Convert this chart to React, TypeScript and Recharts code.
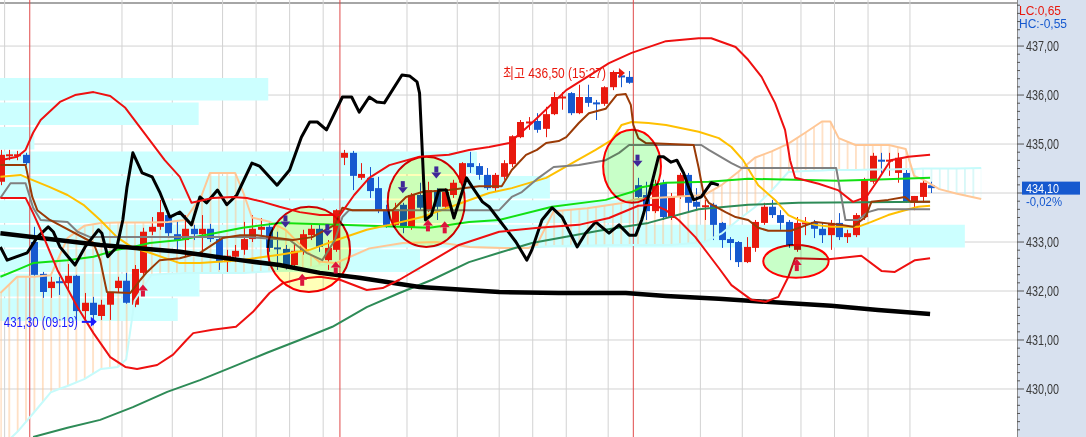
import React from 'react';
import {
  ComposedChart, XAxis, YAxis, Bar, Line, Area, Scatter,
  ReferenceArea, ReferenceLine,
} from 'recharts';

// ---------------- data ----------------
const candleOpen = [
  434.23, 434.76, 434.76, 434.78, 433.00, 432.35, 432.06, 432.19, 432.16, 432.31,
  431.59, 431.76, 431.49, 431.72, 432.06, 432.21, 431.72, 432.37, 433.21, 433.31,
  433.55, 433.16, 433.04, 433.27, 433.16, 433.27, 433.06, 432.59, 432.70, 432.84,
  433.06, 433.25, 433.31, 432.88, 432.86, 432.53, 432.80, 433.14, 433.27, 432.63,
  432.84, 434.72, 434.82, 434.31, 434.31, 434.10, 433.65, 433.35, 433.76, 433.29,
  433.96, 433.65, 434.06, 433.72, 433.96, 434.21, 434.61, 434.55, 434.37, 434.10,
  434.33, 434.59, 435.14, 435.43, 435.47, 435.31, 435.61, 435.94, 436.04, 435.63,
  435.96, 435.84, 435.82, 436.16, 436.39, 436.37, 434.16, 433.96, 433.63, 434.21,
  433.49, 433.92, 434.37, 433.82, 433.72, 433.76, 433.39, 433.06, 433.00, 432.59,
  432.88, 433.39, 433.72, 433.55, 433.41, 432.84, 433.37, 433.41, 433.27, 433.14,
  433.39, 433.10, 433.14, 433.51, 434.23, 434.67, 434.65, 434.41, 434.41, 433.80,
  433.92, 434.16,
];
const candleHigh = [
  434.88, 434.88, 434.86, 434.82, 433.31, 432.39, 432.29, 432.29, 432.55, 432.33,
  431.96, 431.88, 431.82, 431.98, 432.29, 432.37, 432.53, 433.29, 433.51, 433.86,
  433.59, 433.45, 433.55, 433.35, 433.55, 433.37, 433.10, 432.84, 432.94, 433.41,
  433.55, 433.49, 433.41, 433.21, 432.94, 432.98, 433.25, 433.35, 433.35, 433.04,
  433.67, 434.88, 434.86, 434.61, 434.53, 434.33, 433.76, 433.80, 433.80, 434.00,
  434.21, 434.23, 434.10, 434.10, 434.27, 434.63, 434.84, 434.61, 434.51, 434.41,
  434.67, 435.18, 435.49, 435.55, 435.63, 435.76, 436.06, 436.06, 436.06, 436.21,
  436.21, 435.90, 436.18, 436.50, 436.47, 436.49, 434.31, 434.23, 434.27, 434.27,
  434.00, 434.41, 434.41, 434.10, 433.86, 433.80, 433.41, 433.10, 433.02, 433.10,
  433.45, 433.80, 433.86, 433.65, 433.45, 433.51, 433.51, 433.45, 433.39, 433.45,
  433.59, 433.25, 433.59, 434.31, 434.82, 434.82, 434.82, 434.82, 434.51, 433.94,
  434.31, 434.23,
];
const candleLow = [
  434.16, 434.67, 434.67, 434.57, 432.31, 431.86, 431.86, 431.92, 432.02, 431.41,
  431.41, 431.30, 431.41, 431.41, 431.96, 431.74, 431.67, 432.33, 433.14, 433.25,
  433.12, 432.78, 432.70, 433.04, 432.70, 433.00, 432.43, 432.39, 432.59, 432.74,
  433.00, 433.14, 432.80, 432.43, 432.43, 432.47, 432.74, 433.04, 432.80, 432.43,
  432.80, 434.57, 434.06, 434.27, 433.90, 433.59, 433.29, 433.29, 433.18, 433.25,
  433.65, 433.61, 433.45, 433.65, 433.90, 434.16, 434.41, 434.27, 434.06, 434.02,
  434.27, 434.53, 435.12, 435.29, 435.23, 435.14, 435.59, 435.70, 435.59, 435.61,
  435.76, 435.49, 435.78, 436.10, 436.16, 436.23, 433.86, 433.45, 433.59, 433.45,
  433.45, 433.88, 433.61, 433.65, 433.45, 433.04, 432.88, 432.63, 432.49, 432.57,
  432.80, 433.35, 433.49, 433.25, 432.88, 432.80, 433.14, 433.08, 432.98, 432.84,
  433.04, 432.98, 433.10, 433.45, 434.19, 434.41, 434.35, 434.21, 433.80, 433.65,
  433.80, 434.00,
];
const candleClose = [
  434.78, 434.78, 434.78, 434.61, 432.33, 431.98, 432.19, 432.17, 432.31, 431.59,
  431.76, 431.51, 431.72, 431.96, 432.21, 431.76, 432.45, 433.21, 433.31, 433.61,
  433.18, 433.04, 433.27, 433.16, 433.27, 433.06, 432.59, 432.72, 432.82, 433.06,
  433.27, 433.31, 432.88, 432.86, 432.49, 432.82, 433.16, 433.27, 432.90, 432.88,
  433.65, 434.82, 434.35, 434.39, 434.04, 433.65, 433.35, 433.67, 433.29, 433.96,
  433.70, 434.06, 433.72, 434.02, 434.21, 434.61, 434.53, 434.37, 434.10, 434.37,
  434.61, 435.16, 435.45, 435.45, 435.29, 435.61, 435.96, 435.96, 435.63, 435.96,
  435.84, 435.82, 436.16, 436.43, 436.37, 436.25, 433.92, 433.63, 434.16, 433.51,
  433.92, 434.37, 433.80, 433.72, 433.74, 433.35, 433.04, 432.98, 432.59, 432.90,
  433.41, 433.72, 433.55, 433.39, 432.94, 433.39, 433.39, 433.27, 433.14, 433.39,
  433.10, 433.18, 433.55, 434.27, 434.76, 434.65, 434.67, 434.72, 433.82, 433.94,
  434.21, 434.10,
];

type P = [number, number];

const upperBand: P[] = [[0,434.67],[2,434.74],[3,434.88],[3.9,435.23],[4.8,435.49],[7.1,435.86],[8.9,436.00],[11.1,436.06],[13.1,435.98],[14.9,435.74],[16.7,435.33],[17.8,435.08],[19.6,434.67],[21.4,434.33],[22.8,433.80],[25.3,433.90],[27.7,433.92],[29.4,433.90],[31.3,433.82],[33.3,433.72],[35.7,433.61],[38.1,433.55],[40.5,433.55],[42.2,433.96],[44,434.31],[46.4,434.57],[50,434.74],[53.5,434.78],[55.9,434.88],[58.3,434.94],[60.7,435.02],[63.4,435.43],[67.5,436.10],[72.6,436.65],[75.3,436.86],[79.4,437.10],[83.3,437.16],[84.8,437.16],[87.7,436.98],[89.2,436.72],[90.8,436.37],[92.4,435.84],[93.6,435.29],[94.2,434.67],[94.8,434.31],[97.6,434.19],[99.9,434.06],[101.7,433.82],[103.3,433.92],[104.7,434.27],[106.2,434.67],[108.3,434.74],[110.9,434.78]];
const lowerBand: P[] = [[0,433.90],[3,433.90],[3.9,433.59],[4.8,433.25],[6.8,432.43],[9.2,431.67],[11.1,431.14],[13.1,430.65],[14.9,430.45],[16.3,430.41],[18.7,430.49],[20.6,430.70],[22.2,431.00],[23,431.14],[25.3,431.21],[28.1,431.27],[30.1,431.57],[32.1,431.96],[33.7,432.16],[35.7,432.25],[38.1,432.29],[40.5,432.23],[43.7,432.02],[45.6,432.06],[47.6,432.23],[51.2,432.59],[54.7,432.94],[59.5,433.21],[64.2,433.29],[69,433.35],[72.6,433.49],[76.1,433.74],[77.9,433.76],[79.4,433.65],[80.9,433.45],[82.9,433.10],[84.5,432.74],[85.7,432.47],[87.2,432.12],[89.6,431.82],[91.3,431.78],[92.8,431.88],[94,432.29],[94.8,432.67],[98.8,432.65],[102.7,432.72],[105.1,432.41],[106.7,432.39],[109.1,432.63],[110.9,432.67]];
const laggingSpan: P[] = [[0,432.90],[0.8,432.63],[3.2,432.78],[4.4,433.10],[5.7,433.31],[6.3,433.21],[7.1,432.90],[8.9,432.53],[10.1,432.90],[11.7,433.25],[12.1,433.18],[12.8,432.70],[13.9,432.90],[14.6,433.45],[15.1,434.12],[15.8,434.82],[16.9,434.41],[18.1,434.33],[19,434.02],[20.2,433.51],[21.4,433.61],[22.8,433.35],[23.8,433.92],[24.6,433.80],[25.9,434.06],[27,433.76],[28.2,433.96],[30,434.61],[30.9,434.55],[33,434.16],[34.5,434.47],[35.9,435.14],[36.9,435.45],[37.8,435.45],[38.9,435.29],[40.8,435.96],[41.9,435.96],[42.8,435.65],[44,435.96],[44.9,435.86],[45.8,435.84],[47.9,436.41],[48.8,436.39],[49.7,436.27],[50,436.04],[50.3,434.94],[50.7,433.45],[51.4,433.55],[52.3,434.06],[53.2,434.06],[54.1,433.49],[55.6,434.31],[56.3,434.12],[57.5,433.82],[58.3,433.72],[59.5,433.45],[60.7,433.18],[61.5,433.00],[62.8,432.63],[63.4,432.84],[64.6,433.45],[65.8,433.70],[67,433.51],[68.8,432.90],[69.8,433.18],[71,433.41],[72.6,433.18],[73.8,433.35],[75,433.14],[75.8,433.14],[76.5,433.45],[77.3,433.92],[77.9,434.33],[78.5,434.74],[79.1,434.74],[80,434.63],[80.7,434.67],[81.5,434.41],[82.1,434.12],[82.7,433.86],[83.6,433.92],[84.8,434.21],[85.7,434.16]];
const slowAverage: P[] = [[0,433.18],[11.9,432.94],[21.4,432.80],[28.6,432.63],[33.3,432.53],[38.1,432.37],[42.8,432.27],[50,432.08],[59.5,431.98],[66.6,431.96],[74.6,431.96],[79.4,431.90],[85.7,431.84],[91.3,431.78],[99.1,431.70],[104.7,431.61],[110.9,431.53]];
const baseLine: P[] = [[0,433.90],[1.2,434.20],[3,434.20],[3.9,433.70],[4.8,433.45],[8,433.41],[9.2,433.21],[10.7,433.10],[21.4,433.10],[29.7,433.10],[34.5,433.04],[36.5,432.78],[38.4,432.63],[39.9,433.04],[40.8,433.51],[41.6,433.65],[59.5,433.65],[61,433.92],[62.2,434.02],[64.2,434.31],[66,434.53],[69,434.57],[72.2,434.67],[73.8,434.82],[75,434.98],[83.6,434.98],[84.5,434.88],[87.2,434.61],[88.4,434.51],[99.7,434.51],[100.8,433.45],[102.3,433.45],[103.5,433.61],[104.7,433.67],[110.9,433.67]];
const conversionLine: P[] = [[0,434.57],[3,434.57],[3.3,434.33],[3.8,433.92],[4.4,433.65],[5.9,433.45],[11.1,432.98],[11.9,432.63],[12.7,431.98],[15.5,431.96],[16.7,432.23],[17.5,432.39],[19,432.63],[21.4,432.67],[23.8,432.78],[26.5,433.08],[28.6,433.14],[30.6,433.14],[33,433.08],[34.9,433.04],[37.2,433.10],[39.9,433.35],[40.8,433.70],[42,433.65],[46.8,433.65],[48.4,433.92],[50.3,434.02],[53.5,434.06],[57.1,434.14],[59.8,434.14],[61,434.47],[62.7,434.78],[64,434.88],[65.1,435.02],[66.6,435.06],[67.5,435.14],[69,435.43],[70.2,435.63],[72.2,435.72],[73.5,436.00],[74.6,436.02],[75.2,435.80],[75.5,435.39],[76.1,435.12],[77,435.02],[82.7,434.98],[83.3,434.51],[83.9,433.96],[84.5,433.80],[86.5,433.61],[87.7,433.51],[89.2,433.45],[90.4,433.29],[91.6,433.23],[94.3,433.23],[97.2,433.41],[100.3,433.35],[101.7,433.31],[103.2,433.51],[103.9,433.82],[105.9,433.86],[107.9,433.92],[108.6,433.82],[110.9,433.82]];
const yellowAverage: P[] = [[0,434.33],[2.4,434.37],[3.2,434.31],[5.9,434.12],[8,433.96],[9.9,433.76],[11.9,433.45],[13.9,433.10],[15.8,432.88],[17.8,432.78],[21.4,432.57],[23.8,432.57],[28.6,432.63],[33.3,432.74],[36.9,432.84],[40.1,433.04],[43.7,433.25],[46.4,433.35],[50.3,433.51],[54.4,433.76],[58.3,434.00],[61,434.10],[65.1,434.31],[68.2,434.61],[71,434.88],[72.9,435.08],[74.1,435.39],[75.3,435.45],[77.3,435.43],[79.4,435.39],[83.3,435.25],[85.7,435.12],[87.2,434.94],[88.6,434.67],[90.4,434.16],[92.4,433.86],[94,433.55],[95.2,433.45],[97.2,433.35],[99.1,433.31],[102.3,433.31],[103.9,433.41],[105.9,433.55],[107.9,433.65],[109.5,433.72],[110.9,433.74]];
const greenAverage: P[] = [[0,432.29],[2,432.43],[3.9,432.57],[8,432.63],[11.1,432.70],[13.9,432.84],[15.8,432.90],[17.8,432.98],[21.4,433.04],[28.9,433.29],[33.3,433.39],[40.5,433.35],[51.2,433.29],[55.9,433.41],[59.5,433.45],[65.8,433.72],[72.2,433.86],[75.3,434.02],[76.5,434.12],[79.4,434.21],[84.5,434.23],[89.2,434.29],[99.9,434.25],[103.9,434.27],[110.9,434.31]];
const seaGreenAverage: P[] = [[3.9,429.02],[8,429.21],[11.9,429.37],[15.8,429.63],[19.9,429.94],[23.8,430.18],[27.7,430.45],[31.8,430.74],[35.7,431.00],[39.6,431.27],[43.7,431.67],[47.6,431.96],[51.5,432.23],[55.9,432.59],[59.5,432.78],[63.4,432.98],[71.4,433.23],[77.3,433.39],[83.3,433.67],[89.2,433.76],[95.2,433.80],[110.9,433.82]];

const cloudK = [0,2,4,6,7,8,10,12,14,15,16,18,20,22,24,25,27,28,29,30,32,34,36,38,40,44,48,52,56,60,63,64,66,70,74,76,80,84,86,88,90,92,94,96,98,99,100,102,104,106,108,109,110,112,114,117];
const spanA = [431.96,432.29,432.29,432.32,432.70,433.08,433.33,433.39,433.40,433.40,433.40,433.40,433.41,433.45,433.95,434.41,434.41,434.41,434.00,433.50,433.42,433.25,432.90,432.60,432.57,432.87,432.98,433.00,432.90,432.88,432.88,432.95,433.63,433.69,433.79,433.88,433.92,433.96,434.16,434.43,434.72,434.85,435.01,435.23,435.46,435.46,435.12,434.98,434.98,434.98,434.90,434.35,434.28,434.08,433.99,433.88];
const spanB = [428.80,429.12,429.52,429.93,430.00,430.06,430.20,430.41,430.45,430.60,431.80,432.33,432.35,432.37,432.37,432.37,432.37,432.37,432.37,432.38,432.40,432.42,432.44,432.52,432.58,432.85,432.96,433.00,432.90,432.88,432.88,432.90,432.92,432.93,432.94,432.94,432.94,433.00,433.17,433.45,433.71,434.05,434.43,434.45,434.46,434.47,434.47,434.47,434.48,434.48,434.49,434.49,434.50,434.50,434.50,434.51];

// volume-by-price profile
const profileTop = [436.35, 435.85, 435.35, 434.85, 434.35, 433.85, 433.35, 432.85, 432.35, 431.85];
const profileVolume = [32.0, 23.7, 4.1, 56.9, 65.6, 76.9, 115.1, 50.1, 23.8, 21.2];
const profileBinHeight = 0.46;

// signal marks
const downSignals: P[] = [[34,433.40],[39,433.22],[48,434.10],[52,434.40],[76,434.64]];
const upSignals: P[] = [[17,432.03],[36,432.25],[40,432.50],[51,433.36],[53,433.32],[95,432.55]];

// highlighted zones
const zoneFromK = [31.9, 46.2, 71.9, 91.0];
const zoneToK = [41.7, 55.4, 78.8, 98.8];
const zoneHigh = [433.72, 434.74, 435.29, 432.94];
const zoneLow = [431.98, 432.90, 433.80, 432.27];
const zoneTone = ['yellow', 'yellow', 'green', 'green'];

const highValue = 436.50, highTime = '15:27', highAt: P = [74.5, 436.45];
const lowValue = 431.30, lowTime = '09:19', lowAt: P = [11.5, 431.37];
const lastPrice = 434.10, lastChange = '-0,02%';
const lcText = 'LC:0,65', hcText = 'HC:-0,55';

const axisLabels = [430, 431, 432, 433, 434, 435, 436, 437];
const gridSlots = [0.5, 14.5, 20.5, 26.5, 30.5, 34.5, 38.5, 48.5, 54.5, 59.5, 63.5, 67.5, 72.5, 83.5, 88.5, 95.5, 99.5, 103.5, 108.5];
const daySlots = [3.5, 40.5, 75.5];

// ---------------- derived ----------------
const X_DOMAIN: [number, number] = [-0.05, 121.27];
const Y_DOMAIN: [number, number] = [429.02, 437.94];
const RED = '#e8190e';
const BLUE = '#1659cf';
const FONT = "'Liberation Sans', Arial, 'Noto Sans CJK KR', sans-serif";

const candles = candleOpen.map((o, i) => ({
  k: i, open: o, high: candleHigh[i], low: candleLow[i], close: candleClose[i],
}));
const pts = (arr: P[]) => arr.map(([k, v]) => ({ k, v }));
const cloud = cloudK.map((k, i) => {
  const a = spanA[i], b = spanB[i];
  return { k, a, b, peach: a >= b ? [b, a] : [a, a], cyan: b > a ? [a, b] : [b, b] };
});

const minorPerUnit = 6;
const axisTicks: number[] = [];
for (let p = 429; p <= 437; p++) {
  for (let j = 0; j < minorPerUnit; j++) {
    const t = +(p + j / minorPerUnit).toFixed(4);
    if (t >= Y_DOMAIN[0] && t <= Y_DOMAIN[1]) axisTicks.push(t);
  }
}
axisTicks.push(lastPrice);

const fmt = (v: number) => v.toFixed(2).replace('.', ',');

// ---------------- shapes ----------------
const BODY_W = 7;
const Candle = (props: any) => {
  const { x, y, width, height, payload } = props;
  if (x == null || y == null || !payload) return null;
  const { open, close, high, low } = payload;
  const span = high - low;
  const ratio = span > 0 ? height / span : 0;
  const py = (v: number) => y + (high - v) * ratio;
  const color = close >= open ? RED : BLUE;
  const cx = Math.round(x + width / 2);
  const top = py(Math.max(open, close));
  const bot = py(Math.min(open, close));
  const thin = bot - top < 2;
  return (
    <g>
      <line x1={cx + 0.5} x2={cx + 0.5} y1={y} y2={y + height} stroke={color} strokeWidth={1} />
      <rect x={cx - 3} y={thin ? (top + bot) / 2 - 1 : top} width={BODY_W} height={thin ? 2 : bot - top} fill={color} />
    </g>
  );
};

const DownArrow = (p: any) => {
  const { cx, cy } = p;
  const c = '#3f2898';
  return (
    <g>
      <rect x={cx - 2} y={cy - 7} width={4} height={6} fill={c} />
      <polygon points={`${cx - 5},${cy - 1} ${cx + 5},${cy - 1} ${cx},${cy + 5}`} fill={c} />
    </g>
  );
};
const UpArrow = (p: any) => {
  const { cx, cy } = p;
  const c = '#dc143c';
  return (
    <g>
      <polygon points={`${cx - 5},${cy + 1} ${cx + 5},${cy + 1} ${cx},${cy - 5}`} fill={c} />
      <rect x={cx - 2} y={cy + 1} width={4} height={6} fill={c} />
    </g>
  );
};

const makeMarker = (text: string, color: string, len: number) => (p: any) => {
  const { cx, cy } = p;
  return (
    <g>
      <line x1={cx - 15} x2={cx - 5} y1={cy} y2={cy} stroke={color} strokeWidth={2} />
      <polygon points={`${cx - 6},${cy - 5} ${cx},${cy} ${cx - 6},${cy + 5}`} fill={color} />
      <text x={cx - 19 - len} y={cy} dy="0.36em" textAnchor="start" fill={color}
        textLength={len} lengthAdjust="spacingAndGlyphs"
        style={{ fontFamily: FONT, fontSize: 14 }}>{text}</text>
    </g>
  );
};
const HighMarker = makeMarker(`최고 ${fmt(highValue)} (${highTime})`, RED, 103);
const LowMarker = makeMarker(`${fmt(lowValue)} (${lowTime})`, '#1a1aff', 74);

const ellipseShape = (fill: string) => (p: any) => {
  const { x, y, width, height } = p;
  if (x == null) return null;
  return (
    <ellipse cx={x + width / 2} cy={y + height / 2} rx={Math.abs(width) / 2} ry={Math.abs(height) / 2}
      fill={fill} stroke="#ff0000" strokeWidth={2} style={{ mixBlendMode: 'multiply' }} />
  );
};

const txt = { fontFamily: FONT, fontSize: 14 } as const;

const AxisTick = (props: any) => {
  const { x, y, payload } = props;
  const v = payload.value;
  if (v === lastPrice) {
    return (
      <g>
        <rect x={x + 5} y={y - 6.5} width={58} height={13} fill={BLUE} />
        <text x={x + 9} y={y} dy="0.36em" textAnchor="start" fill="#ffffff" style={{ ...txt, fontSize: 13 }}
          textLength={33} lengthAdjust="spacingAndGlyphs">{fmt(v)}</text>
        <text x={x + 9} y={y + 13} dy="0.36em" textAnchor="start" fill={BLUE} style={{ ...txt, fontSize: 13 }}
          textLength={36} lengthAdjust="spacingAndGlyphs">{lastChange}</text>
      </g>
    );
  }
  const major = axisLabels.some((l) => Math.abs(l - v) < 1e-3);
  return (
    <g>
      <line x1={x} x2={x + (major ? 7 : 3)} y1={y} y2={y} stroke="#555" strokeWidth={1} />
      {major && Math.abs(v - lastPrice) > 0.2 && (
        <text x={x + 9} y={y} dy="0.36em" textAnchor="start" fill="#3a3a3a" style={txt}
          textLength={33} lengthAdjust="spacingAndGlyphs">{fmt(v)}</text>
      )}
    </g>
  );
};

const AxisCorner = (props: any) => {
  const vb = props.viewBox || {};
  const x0 = (vb.x ?? 1017) + 2;
  return (
    <g>
      <text x={x0} y={10} dy="0.36em" fill={RED} style={{ ...txt, fontSize: 13 }}
        textLength={42} lengthAdjust="spacingAndGlyphs">{lcText}</text>
      <text x={x0} y={23} dy="0.36em" fill={BLUE} style={{ ...txt, fontSize: 13 }}
        textLength={48} lengthAdjust="spacingAndGlyphs">{hcText}</text>
    </g>
  );
};

const lineProps = { dot: false, activeDot: false, isAnimationActive: false, type: 'linear' as const, dataKey: 'v', strokeLinejoin: 'round' as const };

export default function App() {
  return (
    <div style={{ position: 'absolute', left: 0, top: 0, width: 1086, height: 437, background: '#ffffff', overflow: 'hidden' }}>
      <div style={{ position: 'absolute', left: 1017, top: 0, width: 69, height: 437, background: '#d8e1ef', borderLeft: '1px solid #8a8a8a', boxSizing: 'border-box' }} />
      <div style={{ position: 'absolute', left: 0, top: 2, width: 1017, height: 2, background: '#a6a6a6' }} />
      <div style={{ position: 'absolute', left: 0, top: 0 }}>
        <ComposedChart width={1086} height={437} data={candles} margin={{ top: 0, right: 0, bottom: 0, left: 0 }}>
          <defs>
            <pattern id="hatchPeach" patternUnits="userSpaceOnUse" x={0} y={0} width={8.383} height={10}>
              <line x1={0.9} y1={0} x2={0.9} y2={10} stroke="#ffc796" strokeWidth={1} />
            </pattern>
            <pattern id="hatchCyan" patternUnits="userSpaceOnUse" x={0} y={0} width={8.383} height={10}>
              <line x1={0.9} y1={0} x2={0.9} y2={10} stroke="#b9f2f2" strokeWidth={1} />
            </pattern>
          </defs>
          <XAxis xAxisId={0} dataKey="k" type="number" domain={X_DOMAIN} allowDataOverflow hide />
          <XAxis xAxisId="c" dataKey="k" type="number" domain={X_DOMAIN} allowDataOverflow hide />

          {axisLabels.map((p) => (
            <ReferenceLine key={`gh${p}`} y={p} stroke="#d2d2d2" strokeWidth={1} zIndex={-95} />
          ))}
          {gridSlots.map((s) => (
            <ReferenceLine key={`gv${s}`} x={s} stroke="#d2d2d2" strokeWidth={1} zIndex={-95} />
          ))}

          {profileTop.map((t, i) => (
            <ReferenceArea key={`pf${i}`} x1={X_DOMAIN[0]} x2={X_DOMAIN[0] + profileVolume[i]}
              y1={t - profileBinHeight} y2={t} fill="#ccffff" fillOpacity={1} stroke="none" zIndex={-80} />
          ))}
          {daySlots.map((s) => (
            <ReferenceLine key={`d${s}`} x={s} stroke="#e04a4a" strokeWidth={1} zIndex={-70} />
          ))}

          <Area data={cloud} dataKey="peach" type="linear" stroke="none" fill="url(#hatchPeach)" fillOpacity={1} isAnimationActive={false} activeDot={false} zIndex={-60} />
          <Area data={cloud} dataKey="cyan" type="linear" stroke="none" fill="url(#hatchCyan)" fillOpacity={1} isAnimationActive={false} activeDot={false} zIndex={-60} />

          <Bar xAxisId="c" dataKey={(d: any) => [d.low, d.high]} barSize={7} shape={Candle} isAnimationActive={false} zIndex={300} />

          <Line data={cloud} {...lineProps} dataKey="b" stroke="#c6fbfb" strokeWidth={2} zIndex={400} />
          <Line data={cloud} {...lineProps} dataKey="a" stroke="#ffc796" strokeWidth={2} zIndex={400} />
          <Line data={pts(seaGreenAverage)} {...lineProps} stroke="#2e8b57" strokeWidth={2} zIndex={400} />
          <Line data={pts(greenAverage)} {...lineProps} stroke="#12e012" strokeWidth={2} zIndex={400} />
          <Line data={pts(yellowAverage)} {...lineProps} stroke="#ffc000" strokeWidth={2} zIndex={400} />
          <Line data={pts(baseLine)} {...lineProps} stroke="#808080" strokeWidth={2} zIndex={400} />
          <Line data={pts(conversionLine)} {...lineProps} stroke="#9a3a06" strokeWidth={2} zIndex={400} />
          <Line data={pts(slowAverage)} {...lineProps} stroke="#000000" strokeWidth={4.5} zIndex={400} />
          <Line data={pts(laggingSpan)} {...lineProps} stroke="#000000" strokeWidth={3} zIndex={400} />
          <Line data={pts(upperBand)} {...lineProps} stroke="#ee1010" strokeWidth={2} zIndex={400} />
          <Line data={pts(lowerBand)} {...lineProps} stroke="#ee1010" strokeWidth={2} zIndex={400} />

          {zoneFromK.map((k, i) => (
            <ReferenceArea key={`z${i}`} x1={k} x2={zoneToK[i]} y1={zoneLow[i]} y2={zoneHigh[i]}
              shape={ellipseShape(zoneTone[i] === 'yellow' ? '#ffffb8' : '#c8ffc8')} zIndex={500} />
          ))}

          <Scatter data={pts(downSignals)} dataKey="v" shape={DownArrow} isAnimationActive={false} zIndex={600} />
          <Scatter data={pts(upSignals)} dataKey="v" shape={UpArrow} isAnimationActive={false} zIndex={600} />
          <Scatter data={pts([highAt])} dataKey="v" shape={HighMarker} isAnimationActive={false} zIndex={650} />
          <Scatter data={pts([lowAt])} dataKey="v" shape={LowMarker} isAnimationActive={false} zIndex={650} />

          <YAxis orientation="right" width={69} type="number" domain={Y_DOMAIN} allowDataOverflow
            ticks={axisTicks} interval={0} tick={AxisTick} tickLine={false} axisLine={false}
            tickSize={0} tickMargin={0} label={{ content: AxisCorner }} />
        </ComposedChart>
      </div>
    </div>
  );
}
